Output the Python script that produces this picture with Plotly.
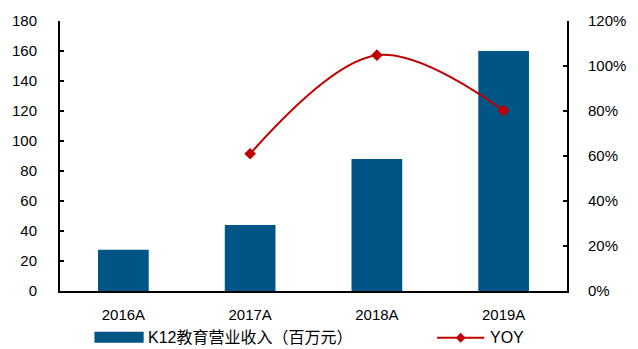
import plotly.graph_objects as go

categories = ["2016A", "2017A", "2018A", "2019A"]
revenue = [27.5, 44, 88, 160]
yoy_x = ["2017A", "2018A", "2019A"]
yoy = [0.61, 1.048, 0.802]

bar_name = "K12教育营业收入（百万元）"
line_name = "YOY"

BAR_COLOR = "#005587"
LINE_COLOR = "#C00000"
FONT = "Arial, Liberation Sans, Noto Sans CJK SC, sans-serif"

W, H = 638, 349
L, R, T, B = 58, 65, 20, 58
PW, PH = W - L - R, H - T - B

def px(x):
    return (x - L) / PW

def py(y):
    return (H - B - y) / PH

fig = go.Figure()
fig.add_trace(go.Bar(x=categories, y=revenue, name=bar_name,
                     marker=dict(color=BAR_COLOR, line=dict(width=0)), width=0.4))
fig.add_trace(go.Scatter(x=yoy_x, y=yoy, name=line_name, yaxis="y2",
                         mode="lines+markers",
                         line=dict(color=LINE_COLOR, width=2, shape="spline", smoothing=1),
                         marker=dict(symbol="diamond", size=9, color=LINE_COLOR)))

# manual legend
ly = 338
shapes = [
    dict(type="rect", xref="paper", yref="paper", x0=px(93), x1=px(143),
         y0=py(343), y1=py(332), fillcolor=BAR_COLOR, line=dict(width=0)),
    dict(type="line", xref="paper", yref="paper", x0=px(441), x1=px(489),
         y0=py(ly), y1=py(ly), line=dict(color=LINE_COLOR, width=2)),
    dict(type="path", xref="paper", yref="paper",
         path=f"M{px(465)},{py(ly-5)} L{px(470)},{py(ly)} L{px(465)},{py(ly+5)} L{px(460)},{py(ly)} Z",
         fillcolor=LINE_COLOR, line=dict(color=LINE_COLOR, width=0)),
]
annotations = [
    dict(text=bar_name, xref="paper", yref="paper", x=px(145), y=py(ly),
         xanchor="left", yanchor="middle", showarrow=False,
         font=dict(size=16, color="black", family=FONT)),
    dict(text=line_name, xref="paper", yref="paper", x=px(493), y=py(ly),
         xanchor="left", yanchor="middle", showarrow=False,
         font=dict(size=16, color="black", family=FONT)),
]

fig.update_layout(
    width=W, height=H,
    margin=dict(l=L, r=R, t=T, b=B, pad=0),
    paper_bgcolor="white", plot_bgcolor="white",
    showlegend=False,
    font=dict(family=FONT, size=15, color="black"),
    shapes=shapes, annotations=annotations,
    xaxis=dict(type="category", showline=True, linecolor="black", linewidth=2,
               ticks="", showgrid=False, zeroline=False, ticklabelstandoff=9),
    yaxis=dict(range=[0, 180], dtick=20, showline=True, linecolor="black", linewidth=2,
               ticks="inside", ticklen=4, tickwidth=1.5, tickcolor="black",
               showgrid=False, zeroline=False, ticklabelstandoff=18),
    yaxis2=dict(range=[0, 1.2], dtick=0.2, tickformat=".0%", overlaying="y", side="right",
                showline=True, linecolor="black", linewidth=2,
                ticks="inside", ticklen=4, tickwidth=1.5, tickcolor="black",
                showgrid=False, zeroline=False, ticklabelstandoff=16),
)

fig.write_html("out.html")
